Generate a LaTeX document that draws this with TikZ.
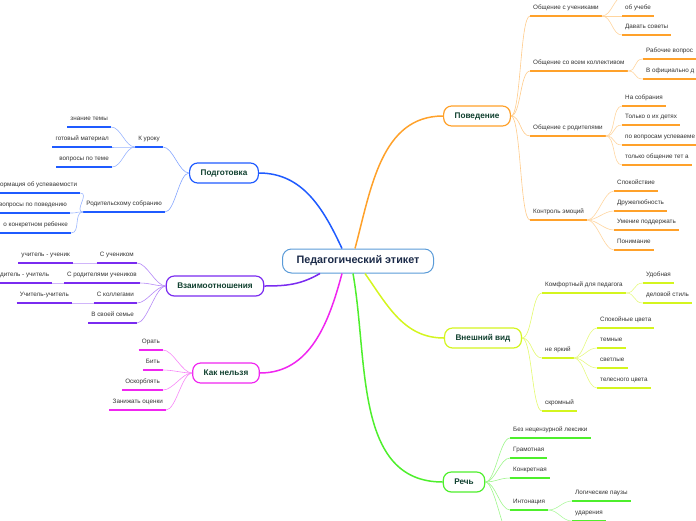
\documentclass[tikz,border=0pt]{standalone}
\usepackage{fontspec}
\setmainfont{Liberation Sans}
\usetikzlibrary{positioning}

\definecolor{rootline}{HTML}{5A9BD8}
\definecolor{roottext}{HTML}{1B2A48}
\definecolor{topictext}{HTML}{10402F}
\definecolor{itemtext}{HTML}{333333}
\definecolor{cprep}{HTML}{1F5BFF}
\definecolor{crel}{HTML}{7A2BF0}
\definecolor{cnel}{HTML}{F025F0}
\definecolor{cbeh}{HTML}{FFA12A}
\definecolor{clook}{HTML}{D4F51F}
\definecolor{cspeech}{HTML}{4EEF2C}

\begin{document}
\begin{tikzpicture}[x=1pt, y=-1pt,
    root/.style={draw=rootline, line width=1pt, rounded corners=9pt, fill=white, text=roottext,
      font=\bfseries\fontsize{10.8}{12}\selectfont, minimum width=151pt, minimum height=24pt},
    topic/.style={draw, line width=1.2pt, rounded corners=8pt, fill=white, text=topictext,
      font=\bfseries\fontsize{8.2}{10}\selectfont, minimum height=20pt, inner xsep=11pt},
    item/.style={text=itemtext, font=\fontsize{6.3}{7}\selectfont, inner xsep=3pt, inner ysep=4.5pt,
      text height=4.4pt, text depth=1.5pt},
    rit/.style={item, anchor=south west},
    lit/.style={item, anchor=south east},
    ul/.style={line width=1.6pt},
    trunk/.style={line width=1.5pt},
    twig/.style={line width=0.6pt},
    rbr/.style={out=0, in=180, distance=10pt},
    lbr/.style={out=180, in=0, distance=10pt}]
  \useasboundingbox (0,0) rectangle (696,520);

  % Root and topics
  \node[root] (root) at (358,261) {Педагогический этикет};
  \node[topic, draw=cprep] (prep) at (224,173) {Подготовка};
  \node[topic, draw=crel] (rel) at (215,286) {Взаимоотношения};
  \node[topic, draw=cnel] (nel) at (226,373) {Как нельзя};
  \node[topic, draw=cbeh] (beh) at (477,116) {Поведение};
  \node[topic, draw=clook] (look) at (483,338) {Внешний вид};
  \node[topic, draw=cspeech] (speech) at (464,482) {Речь};

  % Podgotovka
  \node[lit] (prep1) at (163,147) {К уроку};
  \node[lit] (prep2) at (165,212) {Родительскому собранию};
  \node[lit] (prep1a) at (111,127) {знание темы};
  \node[lit] (prep1b) at (112,147) {готовый материал};
  \node[lit] (prep1c) at (112,167) {вопросы по теме};
  \node[rit] (prep2a) at (-3,193) {ормация об успеваемости};
  \node[lit] (prep2b) at (70,213) {вопросы по поведению};
  \node[lit] (prep2c) at (71,233) {о конкретном ребенке};

  % Vzaimootnosheniya
  \node[lit] (rel1) at (137,263) {С учеником};
  \node[lit] (rel2) at (140,283) {С родителями учеников};
  \node[lit] (rel3) at (137,303) {С коллегами};
  \node[lit] (rel4) at (137,323) {В своей семье};
  \node[lit] (rel1a) at (73,263) {учитель - ученик};
  \node[rit] (rel2a) at (-3,283) {дитель - учитель};
  \node[lit] (rel3a) at (72,303) {Учитель-учитель};

  % Kak nelzya
  \node[lit] (nel1) at (163,350) {Орать};
  \node[lit] (nel2) at (163,370) {Бить};
  \node[lit] (nel3) at (163,390) {Оскорблять};
  \node[lit] (nel4) at (166,410) {Занижать оценки};

  % Povedenie
  \node[rit] (beh1) at (530,16) {Общение с учениками};
  \node[rit] (beh2) at (530,71) {Общение со всем коллективом};
  \node[rit] (beh3) at (530,136) {Общение с родителями};
  \node[rit] (beh4) at (530,220) {Контроль эмоций};
  \coordinate (beh1a) at (624,-4);
  \node[rit] (beh1b) at (622,16) {об учебе};
  \node[rit] (beh1c) at (622,35) {Давать советы};
  \node[rit] (beh2a) at (643,59) {Рабочие вопрос};
  \node[rit] (beh2b) at (643,79) {В официально д};
  \node[rit] (beh3a) at (622,106) {На собрания};
  \node[rit] (beh3b) at (622,125) {Только о их детях};
  \node[rit] (beh3c) at (622,145) {по вопросам успеваеме};
  \node[rit] (beh3d) at (622,165) {только общение тет а};
  \node[rit] (beh4a) at (614,191) {Спокойствие};
  \node[rit] (beh4b) at (614,211) {Дружелюбность};
  \node[rit] (beh4c) at (614,230) {Умение поддержать};
  \node[rit] (beh4d) at (614,250) {Понимание};

  % Vneshniy vid
  \node[rit] (look1) at (542,293) {Комфортный для педагога};
  \node[rit] (look2) at (542,358) {не яркий};
  \node[rit] (look3) at (542,411) {скромный};
  \node[rit] (look1a) at (643,283) {Удобная};
  \node[rit] (look1b) at (643,303) {деловой стиль};
  \node[rit] (look2a) at (597,328) {Спокойные цвета};
  \node[rit] (look2b) at (597,348) {темные};
  \node[rit] (look2c) at (597,368) {светлые};
  \node[rit] (look2d) at (597,388) {телесного цвета};

  % Rech
  \node[rit] (sp1) at (510,438) {Без нецензурной лексики};
  \node[rit] (sp2) at (510,458) {Грамотная};
  \node[rit] (sp3) at (510,478) {Конкретная};
  \node[rit] (sp4) at (510,510) {Интонация};
  \coordinate (sp5) at (514,545);
  \node[rit] (sp4a) at (572,501) {Логические паузы};
  \node[rit] (sp4b) at (572,521) {ударения};

  % Trunks
  \draw[trunk, cprep] ([xshift=-16pt]root.north) to[out=115, in=0] (prep.east);
  \draw[trunk, crel] ([xshift=-38pt]root.south) to[out=-150, in=0] (rel.east);
  \draw[trunk, cnel] ([xshift=-16pt]root.south) to[out=-105, in=0] (nel.east);
  \draw[trunk, cbeh] ([xshift=-3pt]root.north) to[out=75, in=180] (beh.west);
  \draw[trunk, clook] ([xshift=7pt]root.south) to[out=-55, in=180] (look.west);
  \draw[trunk, cspeech] ([xshift=-5pt]root.south) to[out=-80, in=180] (speech.west);

  % Underlines
  \foreach \n in {prep1,prep2,prep1a,prep1b,prep1c,prep2a,prep2b,prep2c}
    \draw[ul, cprep] (\n.south west) -- (\n.south east);
  \foreach \n in {rel1,rel2,rel3,rel4,rel1a,rel2a,rel3a}
    \draw[ul, crel] (\n.south west) -- (\n.south east);
  \foreach \n in {nel1,nel2,nel3,nel4}
    \draw[ul, cnel] (\n.south west) -- (\n.south east);
  \foreach \n in {beh1,beh2,beh3,beh4,beh1b,beh1c,beh2a,beh2b,beh3a,beh3b,beh3c,beh3d,beh4a,beh4b,beh4c,beh4d}
    \draw[ul, cbeh] (\n.south west) -- (\n.south east);
  \foreach \n in {look1,look2,look3,look1a,look1b,look2a,look2b,look2c,look2d}
    \draw[ul, clook] (\n.south west) -- (\n.south east);
  \foreach \n in {sp1,sp2,sp3,sp4,sp4a,sp4b}
    \draw[ul, cspeech] (\n.south west) -- (\n.south east);

  % Branches, left side
  \foreach \n in {prep1,prep2}
    \draw[twig, cprep!55] (prep.west) to[lbr] (\n.south east);
  \foreach \n in {prep1a,prep1b,prep1c}
    \draw[twig, cprep!45] (prep1.south west) to[lbr] (\n.south east);
  \foreach \n in {prep2a,prep2b,prep2c}
    \draw[twig, cprep!45] (prep2.south west) to[lbr] (\n.south east);
  \foreach \n in {rel1,rel2,rel3,rel4}
    \draw[twig, crel!55] (rel.west) to[lbr] (\n.south east);
  \draw[twig, crel!35] (rel1.south west) -- (rel1a.south east);
  \draw[twig, crel!35] (rel2.south west) -- (rel2a.south east);
  \draw[twig, crel!35] (rel3.south west) -- (rel3a.south east);
  \foreach \n in {nel1,nel2,nel3,nel4}
    \draw[twig, cnel!55] (nel.west) to[lbr] (\n.south east);

  % Branches, right side
  \foreach \n in {beh1,beh2,beh3,beh4}
    \draw[twig, cbeh!55] (beh.east) to[rbr] (\n.south west);
  \draw[twig, cbeh!45] (beh1.south east) to[rbr] (beh1a);
  \foreach \n in {beh1b,beh1c}
    \draw[twig, cbeh!45] (beh1.south east) to[rbr] (\n.south west);
  \foreach \n in {beh2a,beh2b}
    \draw[twig, cbeh!45] (beh2.south east) to[rbr] (\n.south west);
  \foreach \n in {beh3a,beh3b,beh3c,beh3d}
    \draw[twig, cbeh!45] (beh3.south east) to[rbr] (\n.south west);
  \foreach \n in {beh4a,beh4b,beh4c,beh4d}
    \draw[twig, cbeh!45] (beh4.south east) to[rbr] (\n.south west);
  \foreach \n in {look1,look2,look3}
    \draw[twig, clook!65] (look.east) to[rbr] (\n.south west);
  \foreach \n in {look1a,look1b}
    \draw[twig, clook!55] (look1.south east) to[rbr] (\n.south west);
  \foreach \n in {look2a,look2b,look2c,look2d}
    \draw[twig, clook!55] (look2.south east) to[rbr] (\n.south west);
  \foreach \n in {sp1,sp2,sp3,sp4}
    \draw[twig, cspeech!55] (speech.east) to[rbr] (\n.south west);
  \draw[twig, cspeech!55] (speech.east) to[rbr] (sp5);
  \foreach \n in {sp4a,sp4b}
    \draw[twig, cspeech!45] (sp4.south east) to[rbr] (\n.south west);
\end{tikzpicture}
\end{document}
